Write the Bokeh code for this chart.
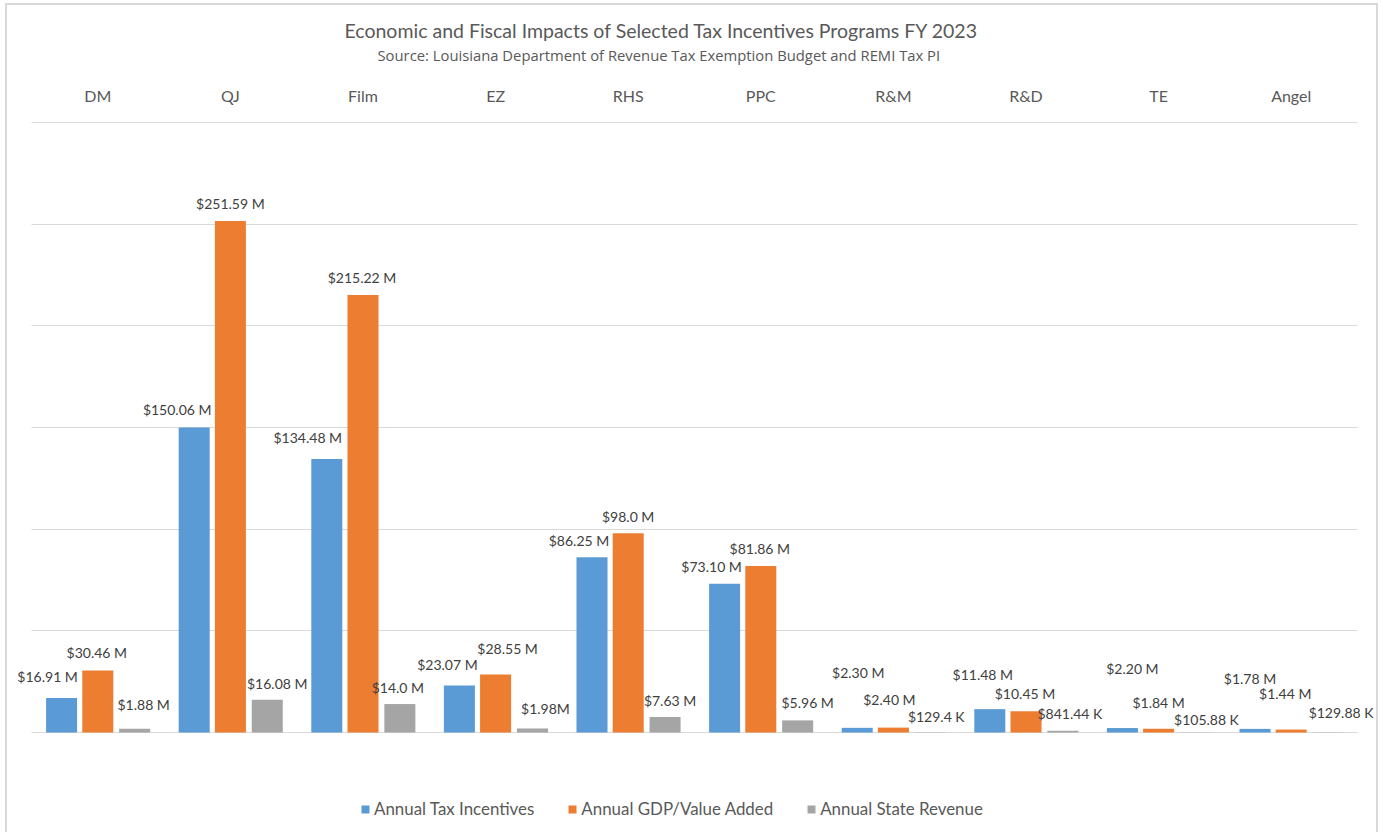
from bokeh.plotting import figure
from bokeh.models import (FactorRange, Range1d, ColumnDataSource, Title, Legend,
                          LegendItem, FixedTicker, LabelSet)
from bokeh.core.properties import value
from bokeh.transform import dodge
from bokeh.embed import file_html
from bokeh.resources import INLINE

# ---------------- data ----------------
categories = ["DM", "QJ", "Film", "EZ", "RHS", "PPC", "R&M", "R&D", "TE", "Angel"]
tax_incentives = [16.91, 150.06, 134.48, 23.07, 86.25, 73.10, 2.30, 11.48, 2.20, 1.78]
gdp_value_added = [30.46, 251.59, 215.22, 28.55, 98.0, 81.86, 2.40, 10.45, 1.84, 1.44]
state_revenue = [1.88, 16.08, 14.0, 1.98, 7.63, 5.96, 0.1294, 0.84144, 0.10588, 0.12988]

tax_labels = ["$16.91 M", "$150.06 M", "$134.48 M", "$23.07 M", "$86.25 M",
              "$73.10 M", "$2.30 M", "$11.48 M", "$2.20 M", "$1.78 M"]
gdp_labels = ["$30.46 M", "$251.59 M", "$215.22 M", "$28.55 M", "$98.0 M",
              "$81.86 M", "$2.40 M", "$10.45 M", "$1.84 M", "$1.44 M"]
rev_labels = ["$1.88 M", "$16.08 M", "$14.0 M", "$1.98M", "$7.63 M",
              "$5.96 M", "$129.4 K", "$841.44 K", "$105.88 K", "$129.88 K"]

series_names = ["Annual Tax Incentives", "Annual GDP/Value Added", "Annual State Revenue"]
grid_values = [0, 50, 100, 150, 200, 250, 300]

# ---------------- style: label placement (pixel nudges, as dragged in the original) ----------------
tax_dx = [-14, -17, -19, -12, -13, -13, 1, -7, 10, -5]
tax_dy = [22, 18, 22, 21, 17, 17, 55, 35, 60, 50]
gdp_dx = [-1, 0, -1, 12, 0, -1, -4, -1, 0, -6]
gdp_dy = [18, 17, 17, 26, 17, 18, 28, 18, 26, 36]
rev_dx = [9, 10, -2, 13, 5, 10, 6, 7, 11, 13]
rev_dy = [24, 16, 17, 20, 16, 18, 16, 17, 13, 20]

colors = ["#5b9bd5", "#ed7d31", "#a5a5a5"]
offsets = [-0.273, 0.0, 0.278]
bar_w = 0.234
TXT = "#595959"
FONT = "Lato"
EDGE = "linear-gradient(#d9d9d9, #d9d9d9)"

x_range = FactorRange(factors=categories, range_padding=0.196,
                      range_padding_units="absolute")
p = figure(x_range=x_range, y_range=Range1d(-49.18, 300.5),
           width=1383, height=832, output_backend="svg", toolbar_location=None,
           x_axis_location="above", min_border_left=5, min_border_right=0,
           min_border_top=121, min_border_bottom=0)
p.outline_line_color = None
p.background_fill_color = None
p.border_fill_color = None
# chart-area frame: left, top and right edges (bottom edge lies outside the window)
p.styles = {"background": (f"{EDGE} 5px 3px / 2px 100% no-repeat, "
                           f"{EDGE} 5px 3px / 1373px 2px no-repeat, "
                           f"{EDGE} 1376px 3px / 2px 100% no-repeat, white")}

p.yaxis.visible = False
p.xgrid.grid_line_color = None
yg = p.ygrid[0]
yg.ticker = FixedTicker(ticks=grid_values)
yg.grid_line_color = "#d9d9d9"
yg.grid_line_width = 1
yg.cross_bounds = (0, len(categories))

xa = p.xaxis[0]
xa.axis_line_color = None
xa.major_tick_line_color = None
xa.minor_tick_line_color = None
xa.major_tick_out = 0
xa.major_tick_in = 0
xa.major_label_standoff = 17
xa.major_label_text_font = FONT
xa.major_label_text_font_size = "16px"
xa.major_label_text_color = TXT

sub = Title(text="Source: Louisiana  Department of Revenue Tax Exemption Budget and REMI Tax PI",
            align="left", text_font="Open Sans", text_font_size="14.8px",
            text_font_style="normal", text_color=TXT, standoff=36, offset=372)
p.add_layout(sub, "above")
main = Title(text="Economic and Fiscal Impacts of Selected Tax Incentives Programs FY 2023",
             align="left", text_font=FONT, text_font_size="19.5px",
             text_font_style="normal", text_color=TXT, standoff=-35, offset=339)
p.add_layout(main, "above")

values = [tax_incentives, gdp_value_added, state_revenue]
labels = [tax_labels, gdp_labels, rev_labels]
dxs = [tax_dx, gdp_dx, rev_dx]
dys = [tax_dy, gdp_dy, rev_dy]

items = []
for i in range(3):
    src = ColumnDataSource(dict(cat=categories, val=values[i], lab=labels[i],
                                dx=dxs[i], dy=dys[i]))
    r = p.vbar(x=dodge("cat", offsets[i], range=p.x_range), top="val", width=bar_w,
               bottom=0, source=src, fill_color=colors[i], line_color=None)
    ls = LabelSet(x=dodge("cat", offsets[i], range=p.x_range), y="val", text="lab",
                  x_offset="dx", y_offset="dy", source=src, text_align="center",
                  text_baseline="middle", text_font_size="14px", text_color="#404040",
                  text_font=value(FONT))
    p.add_layout(ls)
    items.append(LegendItem(label=series_names[i], renderers=[r]))

legend = Legend(items=items, orientation="horizontal", location=(355, 13),
                label_text_font=FONT, label_text_font_size="16.9px", label_text_color=TXT,
                glyph_width=10, glyph_height=10, spacing=33, label_standoff=4,
                border_line_color=None, background_fill_alpha=0, padding=0, margin=0)
p.add_layout(legend)

open("out.html", "w").write(file_html(p, INLINE))
